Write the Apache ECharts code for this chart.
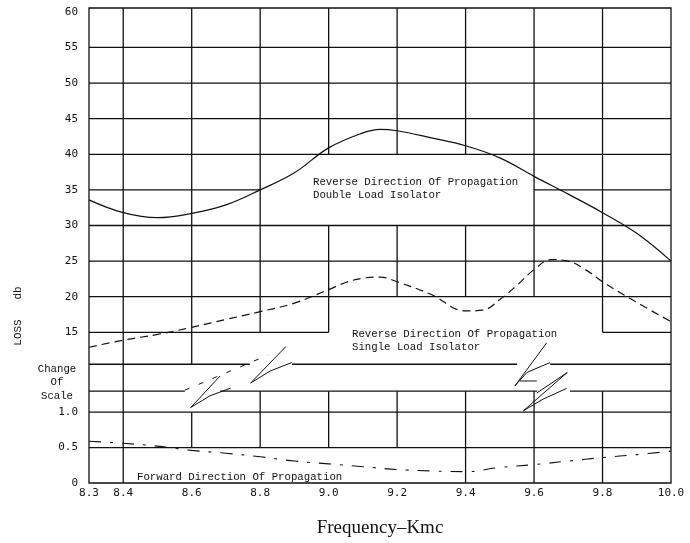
<!DOCTYPE html>
<html>
<head>
<meta charset="utf-8">
<script src="https://cdn.jsdelivr.net/npm/echarts@6/dist/echarts.min.js"></script>
<style>
  html, body { margin: 0; padding: 0; background: #fff; }
  #chart { width: 690px; height: 543px; }
</style>
</head>
<body>
<div id="chart"></div>
<script>
// frequency ticks (Kmc)
const freqTicks = [8.3, 8.4, 8.6, 8.8, 9.0, 9.2, 9.4, 9.6, 9.8, 10.0];
// loss ticks (db): lower scale 0..1.0, upper scale 15..60
const lossTicks = [0, 0.5, 1.0, 15, 20, 25, 30, 35, 40, 45, 50, 55, 60];
const lossTickLabels = ['0', '0.5', '1.0', '15', '20', '25', '30', '35', '40', '45', '50', '55', '60'];

// Reverse direction, double load isolator
const doubleFreq = [8.3, 8.4, 8.5, 8.6, 8.7, 8.8, 8.9, 9.0, 9.1, 9.15, 9.2, 9.3, 9.4, 9.5, 9.6, 9.7, 9.8, 9.9, 10.0];
const doubleLoss = [33.6, 31.8, 31.1, 31.7, 32.9, 35.0, 37.4, 40.9, 43.0, 43.5, 43.3, 42.3, 41.2, 39.5, 36.9, 34.4, 31.8, 28.9, 25.0];

// Reverse direction, single load isolator
const singleFreq = [8.3, 8.4, 8.5, 8.6, 8.7, 8.8, 8.9, 9.0, 9.05, 9.1, 9.15, 9.2, 9.3, 9.4, 9.45, 9.5, 9.55, 9.6, 9.65, 9.7, 9.75, 9.8, 9.9, 10.0];
const singleLoss = [12.9, 13.9, 14.7, 15.7, 16.8, 17.9, 19.1, 21.0, 22.0, 22.6, 22.75, 22.1, 20.3, 18.0, 18.1, 19.6, 21.6, 23.8, 25.2, 25.0, 23.8, 22.1, 19.2, 16.5];

// Forward direction
const forwardFreq = [8.3, 8.4, 8.5, 8.6, 8.7, 8.8, 8.9, 9.0, 9.1, 9.2, 9.3, 9.4, 9.5, 9.6, 9.7, 9.8, 9.9, 10.0];
const forwardLoss = [0.59, 0.56, 0.52, 0.46, 0.42, 0.37, 0.31, 0.27, 0.23, 0.19, 0.17, 0.16, 0.22, 0.26, 0.31, 0.36, 0.40, 0.45];

// broken loss scale -> one plotting unit per grid row
// 0..1.0 in 0.5 steps below, "change of scale" band, then 15..60 in 5 db steps
const toU = v => v <= 1 ? v / 0.5 : 4.254 + (v - 15) / 5 * 1.005;
const U_MAX = 13.408;
const CHANGE_U = [2.592, 3.352];

const pairs = (xs, ys) => xs.map((x, i) => [x, toU(ys[i])]);

const hSeg = (u, x1, x2) => ({ coords: [[x1, u], [x2, u]] });
const vSeg = (x, u1, u2) => ({ coords: [[x, u1], [x, u2]] });
const U = toU;

// hand drawn grid, with the gaps left for the notes and the scale change
const gridSegs = [
  hSeg(U(55), 8.3, 10), hSeg(U(50), 8.3, 10), hSeg(U(45), 8.3, 10), hSeg(U(40), 8.3, 10),
  hSeg(U(35), 8.3, 8.8), hSeg(U(35), 9.6, 10),
  hSeg(U(30), 8.3, 10), hSeg(U(25), 8.3, 10), hSeg(U(20), 8.3, 10),
  hSeg(U(15), 8.3, 9.0), hSeg(U(15), 9.8, 10),
  hSeg(CHANGE_U[1], 8.3, 8.770), hSeg(CHANGE_U[1], 8.893, 9.550), hSeg(CHANGE_U[1], 9.647, 10),
  hSeg(CHANGE_U[0], 8.3, 8.580), hSeg(CHANGE_U[0], 8.683, 9.609), hSeg(CHANGE_U[0], 9.705, 10),
  hSeg(U(1.0), 8.3, 10), hSeg(U(0.5), 8.3, 10),
  vSeg(8.4, 0, U_MAX),
  vSeg(8.6, CHANGE_U[1], U_MAX), vSeg(8.6, U(0.5), U(1.0)),
  vSeg(8.8, U(15), U_MAX), vSeg(8.8, U(0.5), CHANGE_U[0]),
  vSeg(9.0, U(40), U_MAX), vSeg(9.0, U(15), U(30)), vSeg(9.0, U(0.5), CHANGE_U[0]),
  vSeg(9.2, U(40), U_MAX), vSeg(9.2, U(20), U(30)), vSeg(9.2, U(0.5), CHANGE_U[0]),
  vSeg(9.4, U(40), U_MAX), vSeg(9.4, U(20), U(30)), vSeg(9.4, 0, CHANGE_U[0]),
  vSeg(9.6, U(20), U_MAX), vSeg(9.6, 0, CHANGE_U[0]),
  vSeg(9.8, U(15), U_MAX), vSeg(9.8, 0, CHANGE_U[0])
];

// scale-break arrows
const breakMarks = [
  { coords: [[8.683, 3.02], [8.597, 2.13], [8.653, 2.46], [8.714, 2.68]] },
  { coords: [[8.875, 3.85], [8.772, 2.82], [8.829, 3.16], [8.892, 3.40]] },
  { coords: [[9.637, 3.96], [9.544, 2.74], [9.579, 3.12], [9.647, 3.40]] },
  { coords: [[9.559, 2.88], [9.608, 2.88]] },
  { coords: [[9.697, 3.12], [9.569, 2.04], [9.627, 2.37], [9.695, 2.67]] },
  { coords: [[9.608, 2.54], [9.697, 3.12]] }
];
const breakDashes = [
  { coords: [[8.580, 2.62], [8.823, 3.61]] }
];

const tickFont = { fontFamily: 'DejaVu Sans Mono', fontSize: 11, color: '#111' };
const noteFont = '10.7px "Liberation Mono"';
const ink = '#111';

const chart = echarts.init(document.getElementById('chart'));

chart.setOption({
  animation: false,
  backgroundColor: '#fff',
  grid: { left: 89, right: 19, top: 8, bottom: 59, show: true, borderColor: ink, borderWidth: 1.3 },
  xAxis: {
    type: 'value', min: 8.3, max: 10.0,
    name: 'Frequency\u2013Kmc', nameLocation: 'middle', nameGap: 36,
    nameTextStyle: { fontFamily: 'Liberation Serif', fontSize: 19, color: ink },
    axisLine: { show: false }, axisTick: { show: false }, splitLine: { show: false },
    axisLabel: Object.assign({ customValues: freqTicks, margin: 5, formatter: v => v.toFixed(1) }, tickFont)
  },
  yAxis: {
    type: 'value', min: 0, max: U_MAX,
    axisLine: { show: false }, axisTick: { show: false }, splitLine: { show: false },
    axisLabel: Object.assign({
      customValues: lossTicks.map(toU), margin: 11,
      formatter: v => {
        const i = lossTicks.findIndex(t => Math.abs(toU(t) - v) < 1e-6);
        return i >= 0 ? lossTickLabels[i] : '';
      }
    }, tickFont)
  },
  graphic: [
    { type: 'text', x: 18, y: 316, rotation: Math.PI / 2,
      style: { text: 'LOSS   db', font: '11px "Liberation Mono"', fill: ink, textAlign: 'center', textVerticalAlign: 'middle' } },
    { type: 'text', x: 57, y: 382.5,
      style: { text: 'Change\nOf\nScale', font: noteFont, fill: ink, textAlign: 'center', textVerticalAlign: 'middle', lineHeight: 13.5 } },
    { type: 'text', x: 313, y: 188.5, z: 10,
      style: { text: 'Reverse Direction Of Propagation\nDouble Load Isolator', font: noteFont, fill: ink, textAlign: 'left', textVerticalAlign: 'middle', lineHeight: 13 } },
    { type: 'text', x: 352, y: 340.5, z: 10,
      style: { text: 'Reverse Direction Of Propagation\nSingle Load Isolator', font: noteFont, fill: ink, textAlign: 'left', textVerticalAlign: 'middle', lineHeight: 13 } },
    { type: 'text', x: 137, y: 477, z: 10,
      style: { text: 'Forward Direction Of Propagation', font: noteFont, fill: ink, textAlign: 'left', textVerticalAlign: 'middle' } }
  ],
  series: [
    {
      name: 'grid', type: 'lines', coordinateSystem: 'cartesian2d', polyline: true, silent: true, z: 1,
      lineStyle: { color: ink, width: 1.3, opacity: 1 },
      data: gridSegs
    },
    {
      name: 'breaks', type: 'lines', coordinateSystem: 'cartesian2d', polyline: true, silent: true, z: 1,
      lineStyle: { color: ink, width: 1, opacity: 1 },
      data: breakMarks
    },
    {
      name: 'breakDashes', type: 'lines', coordinateSystem: 'cartesian2d', polyline: true, silent: true, z: 1,
      lineStyle: { color: ink, width: 1, opacity: 1, type: [5, 10] },
      data: breakDashes
    },
    {
      name: 'Double Load Isolator', type: 'line', z: 3, smooth: 0.4, showSymbol: false,
      lineStyle: { color: ink, width: 1.2 },
      data: pairs(doubleFreq, doubleLoss)
    },
    {
      name: 'Single Load Isolator', type: 'line', z: 3, smooth: 0.4, showSymbol: false,
      lineStyle: { color: ink, width: 1.2, type: [8, 5] },
      data: pairs(singleFreq, singleLoss)
    },
    {
      name: 'Forward', type: 'line', z: 3, smooth: 0.4, showSymbol: false,
      lineStyle: { color: ink, width: 1.1, type: [12, 9, 3, 9] },
      data: pairs(forwardFreq, forwardLoss)
    }
  ]
});
</script>
</body>
</html>
